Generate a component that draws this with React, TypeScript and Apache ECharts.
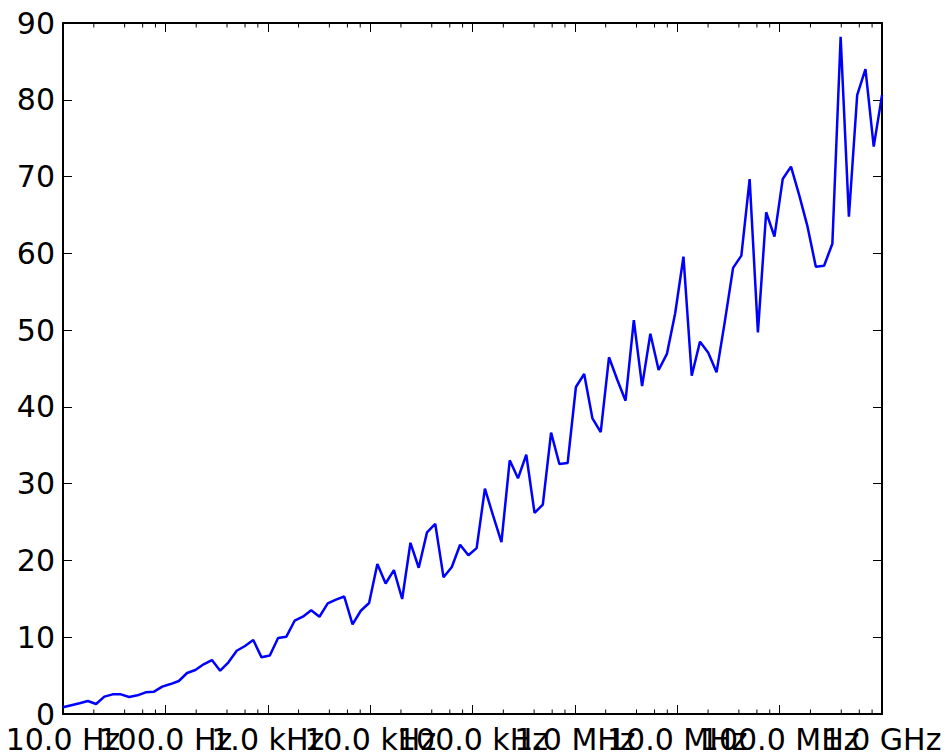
import React, { useEffect, useRef } from "react";
import * as echarts from "echarts";

// Frequency grid: 100 log-spaced points from 10 Hz to 1 GHz (index -> exponent 1 + 8*i/99)
const pointCount = 100;
const freqs: number[] = Array.from({ length: pointCount }, (_, i) => Math.pow(10, 1 + (8 * i) / (pointCount - 1)));

// Values
const values: number[] = [
  0.87, 1.14, 1.41, 1.69, 1.30, 2.26, 2.56, 2.56, 2.21, 2.43,
  2.82, 2.91, 3.56, 3.90, 4.30, 5.34, 5.73, 6.47, 7.03, 5.64,
  6.73, 8.24, 8.86, 9.64, 7.38, 7.62, 9.90, 10.07, 12.15, 12.67,
  13.5, 12.67, 14.4, 14.9, 15.3, 11.68, 13.45, 14.46, 19.54, 17.0,
  18.75, 14.98, 22.3, 19.05, 23.66, 24.75, 17.8, 19.15, 22.05, 20.67,
  21.6, 29.35, 25.8, 22.4, 33.04, 30.7, 33.77, 26.2, 27.26, 36.64,
  32.56, 32.69, 42.59, 44.28, 38.5, 36.7, 46.46, 43.54, 40.8, 51.3,
  42.7, 49.53, 44.8, 46.9, 52.19, 59.56, 44.06, 48.5, 47.06, 44.5,
  51.1, 58.1, 59.7, 69.68, 49.7, 65.35, 62.17, 69.68, 71.3, 67.55,
  63.47, 58.26, 58.39, 61.25, 88.2, 64.77, 80.6, 84.0, 73.9, 80.6,
];

const xTickValues: number[] = [1e1, 1e2, 1e3, 1e4, 1e5, 1e6, 1e7, 1e8, 1e9];
const xTickLabels: string[] = [
  "10.0 Hz", "100.0 Hz", "1.0 kHz", "10.0 kHz", "100.0 kHz",
  "1.0 MHz", "10.0 MHz", "100.0 MHz", "1.0 GHz",
];
const xMinorTicks: number[] = [
  20, 40, 60, 80, 200, 400, 600, 800, 2e3, 4e3, 6e3, 8e3,
  2e4, 4e4, 6e4, 8e4, 2e5, 4e5, 6e5, 8e5, 2e6, 4e6, 6e6, 8e6,
  2e7, 4e7, 6e7, 8e7, 2e8, 4e8, 6e8, 8e8,
];
const yMin = 0;
const yMax = 90;
const yInterval = 10;

const FONT = "DejaVu Sans";

export default function App() {
  const ref = useRef<HTMLDivElement>(null);
  useEffect(() => {
    if (!ref.current) return;
    const chart = echarts.init(ref.current, undefined, { renderer: "svg" });
    const axisLine = { show: true, onZero: false, lineStyle: { color: "#000", width: 2 } };
    const tick = { show: true, inside: true, length: 9, lineStyle: { color: "#000", width: 1 } };
    chart.setOption({
      animation: false,
      backgroundColor: "#fff",
      grid: { left: 63, right: 67, top: 23, bottom: 41, containLabel: false },
      xAxis: [
        {
          type: "log",
          logBase: 10,
          min: 10,
          max: 1e9,
          splitNumber: 8,
          position: "bottom",
          axisLine,
          axisTick: tick,
          splitLine: { show: false },
          minorTick: { show: false },
          axisLabel: { show: false },
        },
        {
          type: "log",
          logBase: 10,
          min: 10,
          max: 1e9,
          splitNumber: 8,
          position: "top",
          axisLine,
          axisTick: tick,
          splitLine: { show: false },
          axisLabel: { show: false },
        },
      ],
      yAxis: [
        {
          type: "value",
          min: yMin,
          max: yMax,
          interval: yInterval,
          position: "left",
          axisLine,
          axisTick: tick,
          splitLine: { show: false },
          axisLabel: {
            margin: 8,
            color: "#000",
            fontFamily: FONT,
            fontSize: 30,
          },
        },
        {
          type: "value",
          min: yMin,
          max: yMax,
          interval: yInterval,
          position: "right",
          axisLine,
          axisTick: tick,
          splitLine: { show: false },
          axisLabel: { show: false },
        },
      ],
      series: [
        {
          type: "line",
          xAxisIndex: 0,
          yAxisIndex: 0,
          data: freqs.map((f, i) => [f, values[i]]),
          showSymbol: false,
          symbol: "none",
          lineStyle: { color: "#0000ff", width: 2.5 },
          z: 3,
        },
        {
          type: "custom",
          xAxisIndex: 0,
          yAxisIndex: 0,
          data: xMinorTicks.map((v) => [v, yMin]),
          encode: { x: 0, y: 1 },
          silent: true,
          clip: false,
          renderItem: (_params: any, api: any) => {
            const v = api.value(0);
            const b = api.coord([v, yMin]);
            const t = api.coord([v, yMax]);
            const style = { stroke: "#000", lineWidth: 1 };
            return {
              type: "group",
              children: [
                { type: "line", shape: { x1: b[0], y1: b[1], x2: b[0], y2: b[1] - 4.5 }, style },
                { type: "line", shape: { x1: t[0], y1: t[1], x2: t[0], y2: t[1] + 4.5 }, style },
              ],
            };
          },
          z: 4,
        },
        {
          type: "custom",
          xAxisIndex: 0,
          yAxisIndex: 0,
          data: xTickValues.map((v, i) => [v, yMin, i]),
          encode: { x: 0, y: 1 },
          silent: true,
          clip: false,
          renderItem: (_params: any, api: any) => {
            const v = api.value(0);
            const idx = api.value(2);
            const p = api.coord([v, yMin]);
            return {
              type: "text",
              x: p[0],
              y: p[1] + 10,
              style: {
                text: xTickLabels[idx],
                fill: "#000",
                fontSize: 30,
                fontFamily: FONT,
                align: "center",
                verticalAlign: "top",
              },
            };
          },
          z: 5,
        },
      ],
    });
    return () => chart.dispose();
  }, []);
  return (
    <div
      ref={ref}
      style={{ position: "absolute", left: 0, top: 0, width: 949, height: 755 }}
    />
  );
}
